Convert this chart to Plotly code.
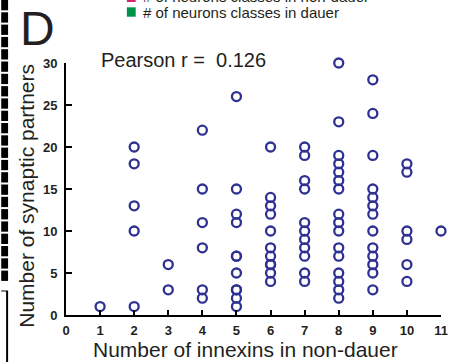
import plotly.graph_objects as go

# ---- data: synaptic partners per neuron, grouped by number of innexins ----
innexins = [1, 2, 3, 4, 5, 6, 7, 8, 9, 10, 11]
partners_1 = [1]
partners_2 = [20, 18, 13, 10, 1]
partners_3 = [6, 3]
partners_4 = [22, 15, 11, 8, 3, 2]
partners_5 = [26, 15, 12, 11, 7, 7, 5, 3, 3, 2, 1]
partners_6 = [20, 14, 13, 12, 10, 8, 7, 6, 6, 5, 4]
partners_7 = [20, 19, 16, 15, 11, 10, 9, 8, 7, 5, 4]
partners_8 = [30, 23, 19, 18, 17, 16, 15, 12, 11, 10, 8, 7, 5, 4, 3, 2]
partners_9 = [28, 24, 19, 15, 14, 13, 12, 10, 8, 7, 6, 5, 3]
partners_10 = [18, 17, 10, 9, 6, 4]
partners_11 = [10]
groups = [partners_1, partners_2, partners_3, partners_4, partners_5, partners_6,
          partners_7, partners_8, partners_9, partners_10, partners_11]

x_ticks = list(range(0, 12))
y_ticks = [0, 5, 10, 15, 20, 25, 30]
pearson_text = "Pearson r =  0.126"
legend_labels = ["# of neurons classes in non-dauer", "# of neurons classes in dauer"]
legend_colors = ["#D6246E", "#00914A"]

xs, ys = [], []
for n, g in zip(innexins, groups):
    xs += [n] * len(g)
    ys += g

W, H = 456, 362
ML, MR, MT, MB = 66, 8, 63, 47
PW, PH = W - ML - MR, H - MT - MB

def px(xp):
    return (xp - ML) / PW

def py(yp):
    return (H - MB - yp) / PH

FONT = "Liberation Sans, Arial, Helvetica, sans-serif"
BLUE = "#2E3192"

fig = go.Figure()
fig.add_trace(go.Scatter(
    x=xs, y=ys, mode="markers", cliponaxis=False, showlegend=False,
    marker=dict(symbol="circle-open", size=9, color=BLUE, line=dict(width=2.3, color=BLUE)),
))

shapes = []
# legend squares (partially cut panel legend)
shapes.append(dict(type="rect", xref="paper", yref="paper", x0=px(128), x1=px(137),
                   y0=py(2), y1=py(-7), fillcolor=legend_colors[0], line=dict(width=0)))
shapes.append(dict(type="rect", xref="paper", yref="paper", x0=px(128), x1=px(137),
                   y0=py(16.7), y1=py(7.3), fillcolor=legend_colors[1], line=dict(width=0)))
# left edge decoration from neighbouring panel
y0 = 0.0
while y0 < 280:
    shapes.append(dict(type="rect", xref="paper", yref="paper", x0=px(0), x1=px(7),
                       y0=py(min(y0 + 10.3, 289)), y1=py(y0), fillcolor="black", line=dict(width=0)))
    y0 += 12.3
shapes.append(dict(type="line", xref="paper", yref="paper", x0=px(6), x1=px(6),
                   y0=py(291), y1=py(362), line=dict(color="black", width=2)))
shapes.append(dict(type="line", xref="paper", yref="paper", x0=px(0), x1=px(7),
                   y0=py(291), y1=py(291), line=dict(color="black", width=1)))

annotations = [
    dict(text="D", xref="paper", yref="paper", x=px(17), y=py(28), xanchor="left", yanchor="middle",
         showarrow=False, font=dict(family=FONT, size=48, color="#231F20")),
    dict(text=pearson_text, xref="paper", yref="paper", x=px(100), y=py(60), xanchor="left",
         yanchor="middle", showarrow=False, font=dict(family=FONT, size=20, color="#231F20")),
    dict(text=legend_labels[0], xref="paper", yref="paper", x=px(142), y=py(-4), xanchor="left",
         yanchor="middle", showarrow=False, font=dict(family=FONT, size=15, color="#231F20")),
    dict(text=legend_labels[1], xref="paper", yref="paper", x=px(142), y=py(12), xanchor="left",
         yanchor="middle", showarrow=False, font=dict(family=FONT, size=15, color="#231F20")),
    dict(text="Number of innexins in non-dauer", xref="paper", yref="paper", x=px(249), y=py(349),
         xanchor="center", yanchor="middle", showarrow=False,
         font=dict(family=FONT, size=21, color="#231F20")),
    dict(text="Number of synaptic partners", xref="paper", yref="paper", x=px(25), y=py(196),
         xanchor="center", yanchor="middle", textangle=-90, showarrow=False,
         font=dict(family=FONT, size=21, color="#231F20")),
]

fig.update_layout(
    width=W, height=H, autosize=False,
    margin=dict(l=ML, r=MR, t=MT, b=MB, pad=0),
    paper_bgcolor="white", plot_bgcolor="white",
    shapes=shapes, annotations=annotations,
    xaxis=dict(range=[0, 11], tickvals=x_ticks, ticks="inside", ticklen=5, tickwidth=1.5,
               tickcolor="black", showline=True, linecolor="black", linewidth=2,
               showgrid=False, zeroline=False, ticklabelstandoff=2,
               tickfont=dict(family=FONT, size=13, color="#231F20", weight="bold")),
    yaxis=dict(range=[0, 30], tickvals=y_ticks, ticks="inside", ticklen=6, tickwidth=1.5,
               tickcolor="black", showline=True, linecolor="black", linewidth=2,
               showgrid=False, zeroline=False, ticklabelstandoff=4,
               tickfont=dict(family=FONT, size=13, color="#231F20", weight="bold")),
)

fig.write_html("out.html")
